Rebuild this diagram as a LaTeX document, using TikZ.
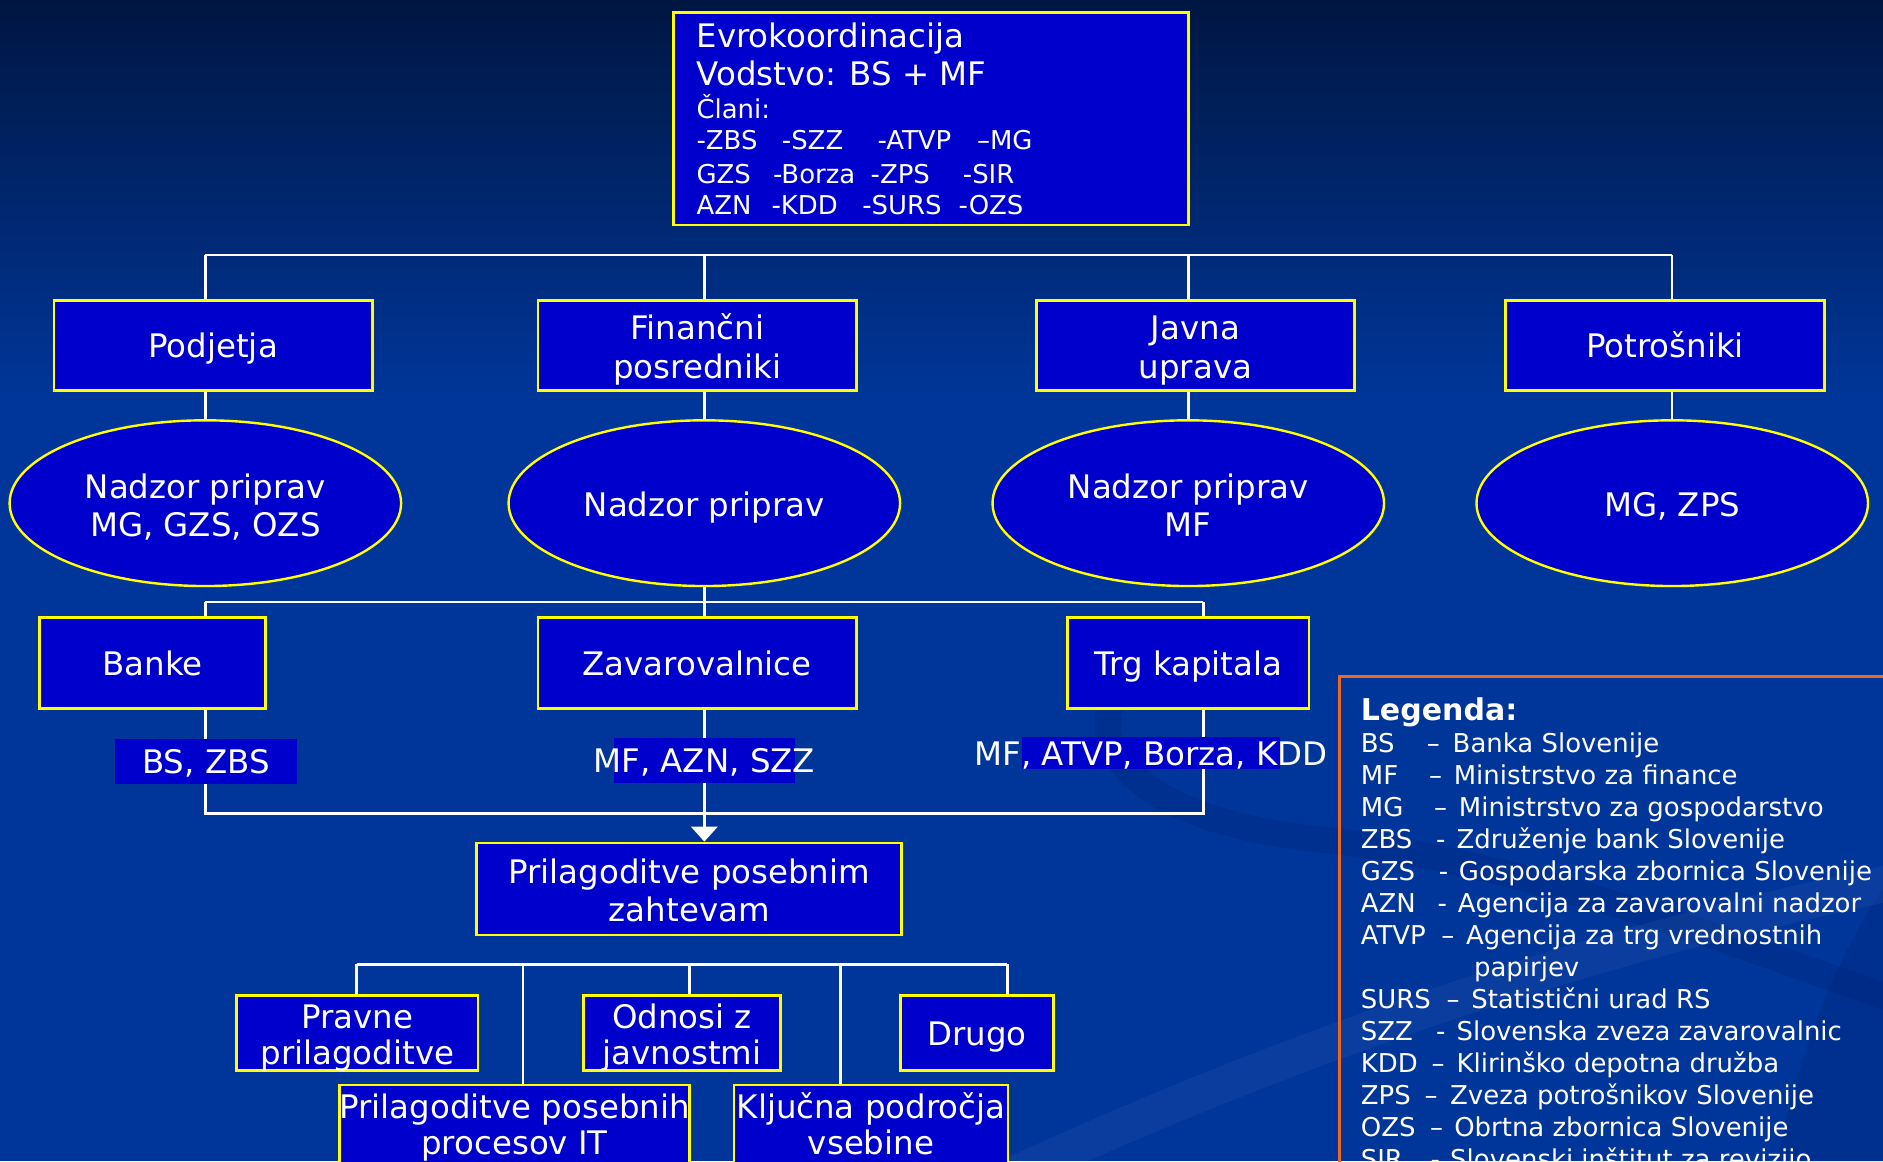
\documentclass[tikz,border=0pt]{standalone}
\usepackage{fontspec}
\setmainfont{DejaVu Sans}
\usetikzlibrary{shapes.geometric,arrows.meta}
\definecolor{boxblue}{RGB}{0,0,204}
\definecolor{ylw}{RGB}{255,255,0}
\definecolor{bgtop}{RGB}{0,22,66}
\definecolor{bgblue}{RGB}{0,54,153}
\definecolor{swdark}{RGB}{0,36,120}
\definecolor{orng}{RGB}{235,105,30}
\newcommand\bigsz{\fontsize{27}{32}\selectfont}
\newcommand\rowsz{\fontsize{27}{30.5}\selectfont}
\newcommand\smsz{\fontsize{21.6}{26.6}\selectfont}
\newcommand\legsz{\fontsize{25}{30}\selectfont\bfseries}
% one centred line: baseline placed a fixed distance below the node centre
\newcommand\one[2][10.6pt]{\raisebox{-#1}[0pt][0pt]{#2}}
% two centred lines: last baseline placed a fixed distance below the node centre
\newcommand\two[3][27.4pt]{\raisebox{-#1}[0pt][0pt]{\begin{tabular}[b]{@{}c@{}}#2\\#3\end{tabular}}}
\pgfdeclarelayer{backdrop}
\pgfdeclarelayer{wires}
\pgfsetlayers{backdrop,wires,main}
\begin{document}
\begin{tikzpicture}[x=1pt,y=-1pt,
  bx/.style={draw=ylw, fill=boxblue, line width=2.4pt, text=white, font=\bigsz, inner sep=0pt},
  bxr/.style={bx, font=\rowsz},
  ov/.style={ellipse, draw=ylw, fill=boxblue, line width=2pt, text=white, font=\bigsz, inner sep=0pt, minimum width=326pt, minimum height=138pt},
  conn/.style={draw=white, line width=2pt},
  tt/.style={text=white, inner sep=0pt, anchor=base west},
  lbl/.style={text=white, font=\bigsz, inner sep=0pt, anchor=base},
]
\useasboundingbox (0,0) rectangle (1568,967);
\clip (0,0) rectangle (1568,967);

% ---------- background ----------
\begin{pgfonlayer}{backdrop}
\fill[bgblue] (0,0) rectangle (1568,967);
\shade[top color=bgtop, bottom color=bgblue] (0,0) rectangle (1568,330);
\draw[swdark, line width=22pt, opacity=0.28, line cap=round]
  (1010,528) .. controls (880,560) and (880,680) .. (1110,700)
  .. controls (1300,725) and (1450,790) .. (1600,840);
\fill[swdark, opacity=0.3] (1480,967) .. controls (1500,860) and (1540,780) .. (1568,740) -- (1568,967) -- cycle;
\draw[white, line width=30pt, opacity=0.04] (840,980) .. controls (1100,860) and (1350,780) .. (1600,730);
\end{pgfonlayer}

% ---------- top box ----------
\node[bx, minimum width=429pt, minimum height=177pt] (evro) at (775.5,98.9) {};
\node[tt, font=\bigsz] (ev1) at (579.8,39.7) {Evrokoordinacija};
\node[tt, font=\bigsz] (ev2) at (579.8,70.8) {Vodstvo: BS + MF};
\node[tt, font=\smsz] (ev3) at (579.8,98.5) {Člani:};
\node[tt, font=\smsz] (ev4a) at (579.8,124.9) {-ZBS};
\node[tt, font=\smsz] (ev4b) at (650.9,124.9) {-SZZ};
\node[tt, font=\smsz] (ev4c) at (730.5,124.9) {-ATVP};
\node[tt, font=\smsz] (ev4d) at (813.4,124.9) {–MG};
\node[tt, font=\smsz] (ev5a) at (579.8,152.6) {GZS};
\node[tt, font=\smsz] (ev5b) at (643.5,152.6) {-Borza};
\node[tt, font=\smsz] (ev5c) at (724.8,152.6) {-ZPS};
\node[tt, font=\smsz] (ev5d) at (801.6,152.6) {-SIR};
\node[tt, font=\smsz] (ev6a) at (579.8,178.2) {AZN};
\node[tt, font=\smsz] (ev6b) at (642.3,178.2) {-KDD};
\node[tt, font=\smsz] (ev6c) at (717.8,178.2) {-SURS};
\node[tt, font=\smsz] (ev6d) at (798.1,178.2) {-OZS};

% ---------- first level ----------
\node[bx, minimum width=265pt, minimum height=75pt] (podj) at (177.5,287.5) {\one{Podjetja}};
\node[bx, minimum width=265pt, minimum height=75pt] (fin) at (580.5,287.5) {\two{Finančni}{posredniki}};
\node[bx, minimum width=265pt, minimum height=75pt] (javna) at (995.5,287.5) {\two{Javna}{uprava}};
\node[bx, minimum width=265pt, minimum height=75pt] (potr) at (1386.5,287.5) {\one{Potrošniki}};

\node[ov] (e1) at (171,419) {\two[28pt]{Nadzor priprav}{MG, GZS, OZS}};
\node[ov] (e2) at (586.5,419) {\one[11.5pt]{Nadzor priprav}};
\node[ov] (e3) at (989.5,419) {\two[28pt]{Nadzor priprav}{MF}};
\node[ov] (e4) at (1392.5,419) {\one[11.5pt]{MG, ZPS}};

% ---------- second level ----------
\node[bx, minimum width=188pt, minimum height=76pt] (banke) at (127,552) {\one{Banke}};
\node[bx, minimum width=265pt, minimum height=76pt] (zav) at (580.5,552) {\one{Zavarovalnice}};
\node[bx, minimum width=201pt, minimum height=76pt] (trg) at (989.5,552) {\one{Trg kapitala}};

\node[bx, minimum width=354pt, minimum height=76.6pt] (prilag) at (574,740.3) {\two{Prilagoditve posebnim}{zahtevam}};

% ---------- third level ----------
\node[bxr, minimum width=201pt, minimum height=63pt] (pravne) at (297.5,860.1) {\two[26.6pt]{Pravne}{prilagoditve}};
\node[bxr, minimum width=164.5pt, minimum height=63pt] (odnosi) at (567.9,860.1) {\two[26.6pt]{Odnosi z}{javnostmi}};
\node[bxr, minimum width=126.8pt, minimum height=63pt] (drugo) at (813.6,860.1) {\one[10.8pt]{Drugo}};
\node[bxr, minimum width=289pt, minimum height=66.4pt] (procesi) at (428.5,936.7) {\two[25pt]{Prilagoditve posebnih}{procesov IT}};
\node[bxr, minimum width=228.2pt, minimum height=66.4pt] (kljucna) at (725.3,936.7) {\two[25pt]{Ključna področja}{vsebine}};

% ---------- connector coordinates ----------
\coordinate (t1) at (775.5,212.5);
\coordinate (t2) at (586.5,501.5);
\coordinate (kT) at (1002,501.5);
\coordinate (kB) at (1002,677.3);
\coordinate (v1) at (297,803);
\coordinate (v2) at (435.5,803);
\coordinate (v3) at (574,803);
\coordinate (v4) at (700,803);
\coordinate (v5) at (838.8,803);

\begin{pgfonlayer}{wires}
\draw[conn] (e1 |- t1) -- (e4 |- t1);
\foreach \e in {e1,e2,e3,e4}{
  \draw[conn] (\e |- t1) -- (\e |- podj.north);
  \draw[conn] (\e |- podj.south) -- (\e.north);
}
\draw[conn] (e2.south) -- (t2);
\draw[conn] (e1 |- t2) -- (kT);
\draw[conn] (e1 |- t2) -- (e1 |- banke.north);
\draw[conn] (t2) -- (e2 |- zav.north);
\draw[conn] (kT) -- (kT |- trg.north);
\draw[conn] (e1 |- banke.south) -- (e1 |- kB) -- (kB) -- (kB |- trg.south);
\draw[conn, -{Triangle[width=22pt,length=12.5pt]}] (e2 |- zav.south) -- (e2 |- prilag.north);
\draw[conn] (v1) -- (v5);
\draw[conn] (v1) -- (v1 |- pravne.north);
\draw[conn] (v2) -- (v2 |- procesi.north);
\draw[conn] (v3) -- (v3 |- odnosi.north);
\draw[conn] (v4) -- (v4 |- kljucna.north);
\draw[conn] (v5) -- (v5 |- drugo.north);
\end{pgfonlayer}

% ---------- edge labels ----------
\fill[boxblue] (96,615.6) rectangle (247,652.7);
\node[lbl] (lbs) at (171.5,644) {BS, ZBS};
\fill[boxblue] (511,614.7) rectangle (662,651.7);
\node[lbl] (lazn) at (586.5,643.4) {MF, AZN, SZZ};
\fill[boxblue] (851,614) rectangle (1066,640);
\node[lbl] (latvp) at (958.5,637.6) {MF, ATVP, Borza, KDD};

% ---------- legend ----------
\draw[orng, line width=2.2pt] (1115.4,1000) -- (1115.4,563.5) -- (1600,563.5);
\node[tt, font=\legsz] (leg) at (1133,599.6) {Legenda:};
\foreach \ab/\dx/\ds/\rx/\rt/\yy in {
  BS/1188/–/1209.5/Banka Slovenije/626.8,
  MF/1189.8/–/1210.4/Ministrstvo za finance/653.4,
  MG/1194/–/1214.7/Ministrstvo za gospodarstvo/680.0,
  ZBS/1195.6/-/1212.7/Združenje bank Slovenije/706.6,
  GZS/1197.9/-/1214.7/Gospodarska zbornica Slovenije/733.2,
  AZN/1197/-/1213.8/Agencija za zavarovalni nadzor/759.8,
  ATVP/1200/–/1220.6/Agencija za trg vrednostnih/786.4,
  SURS/1204.4/–/1225/Statistični urad RS/839.6,
  SZZ/1195.6/-/1212.7/Slovenska zveza zavarovalnic/866.2,
  KDD/1192/–/1212.7/Klirinško depotna družba/892.8,
  ZPS/1186/–/1207.4/Zveza potrošnikov Slovenije/919.4,
  OZS/1190.6/–/1210.8/Obrtna zbornica Slovenije/946.0,
  SIR/1191/-/1207.4/Slovenski inštitut za revizijo/972.6}{
  \node[tt, font=\smsz] at (1133,\yy) {\ab};
  \node[tt, font=\smsz] at (\dx,\yy) {\ds};
  \node[tt, font=\smsz] at (\rx,\yy) {\rt};
}
\node[tt, font=\smsz] (pap) at (1227.3,813.0) {papirjev};
\end{tikzpicture}
\end{document}
